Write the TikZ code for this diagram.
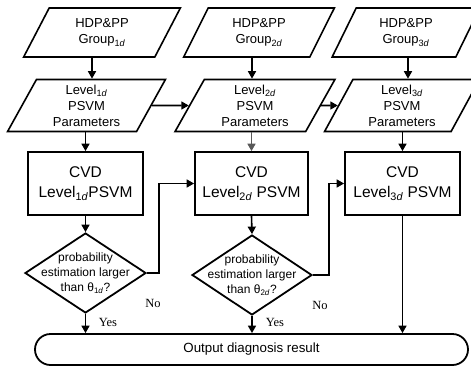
\documentclass[tikz,border=0pt]{standalone}
\usepackage{fontspec}
\setmainfont{Liberation Sans}
\newfontfamily\ynfont{Liberation Serif}
\usetikzlibrary{shapes.geometric,shapes.misc,arrows.meta}
\newcommand{\lvsub}[1]{\textsubscript{#1\textit{d}}}

\begin{document}
\begin{tikzpicture}[x=1pt,y=-1pt]
\tikzstyle{every node}+=[inner sep=0pt]
\tikzstyle{data}=[draw, line width=1.6pt, trapezium, trapezium left angle=65, trapezium right angle=115, trapezium stretches=true, align=center, font=\fontsize{13}{16}\selectfont]
\tikzstyle{proc}=[draw, line width=1.8pt, rectangle, minimum width=114pt, minimum height=63pt, align=center, font=\fontsize{15.5}{20}\selectfont]
\tikzstyle{decide}=[draw, line width=1.8pt, diamond, minimum width=121pt, minimum height=80pt]
\tikzstyle{term}=[draw, line width=1.8pt, rounded rectangle, minimum width=433pt, minimum height=31pt, font=\fontsize{13.3}{16}\selectfont]
\tikzstyle{arr}=[line width=1.6pt, -{Triangle[length=7.5pt,width=8pt]}]
\tikzstyle{yn}=[font=\ynfont\fontsize{12.5}{14}\selectfont]
\useasboundingbox (0,0) rectangle (471,367);
% groups
\node [data, minimum width=157pt, minimum height=49pt] (g1) at (102,32.5) {HDP\&PP\\Group\lvsub{1}};
\node [data, minimum width=151pt, minimum height=49pt] (g2) at (259,32.5) {HDP\&PP\\Group\lvsub{2}};
\node [data, minimum width=148pt, minimum height=49pt] (g3) at (406,32.5) {HDP\&PP\\Group\lvsub{3}};
% parameters
\node [data, minimum width=158pt, minimum height=52pt] (p1) at (86.5,105.5) {Level\lvsub{1}\\PSVM\\Parameters};
\node [data, minimum width=160pt, minimum height=52pt] (p2) at (255,105.5) {Level\lvsub{2}\\PSVM\\Parameters};
\node [data, minimum width=155pt, minimum height=52pt] (p3) at (402,105.5) {Level\lvsub{3}\\PSVM\\Parameters};
% classifiers
\node [proc, minimum width=115pt] (c1) at (85.5,183.5) {CVD\\Level\lvsub{1}PSVM};
\node [proc, minimum width=113pt] (c2) at (251.5,183.5) {CVD\\Level\lvsub{2} PSVM};
\node [proc, minimum width=115pt] (c3) at (402.5,183.5) {CVD\\Level\lvsub{3} PSVM};
% decisions
\node [decide, label={[align=center, font=\fontsize{12}{15}\selectfont]center:probability\\estimation larger\\than θ\lvsub{1}?}] (d1) at (85.5,273) {};
\node [decide, minimum width=120pt, label={[align=center, font=\fontsize{12}{15}\selectfont]center:probability\\estimation larger\\than θ\lvsub{2}?}] (d2) at (252,275) {};
\node [term] (out) at (251.5,349.5) {Output diagnosis result};
% connectors
\draw [arr] ([xshift=-10pt]g1.south) -- ([xshift=-10pt]g1.south |- p1.north);
\draw [arr] ([xshift=-7pt]g2.south) -- ([xshift=-7pt]g2.south |- p2.north);
\draw [arr] ([xshift=2pt]g3.south) -- ([xshift=2pt]g3.south |- p3.north);
\draw [arr] (p1.east) -- (p2.west);
\draw [arr] (p2.east) -- (p3.west);
\draw [arr] (p1.south -| c1.south) -- (c1.north);
\draw [arr, draw=black!65, fill=black!65] (p2.south -| c2.south) -- (c2.north);
\draw [arr] (p3.south -| c3.south) -- (c3.north);
\draw [arr] (c1.south) -- (d1.north);
\draw [arr] (c2.south) -- (d2.north);
\draw [arr] (d1.east) -- ++(12,0) |- (c2.west);
\draw [arr] (d2.east) -- ++(16,0) |- (c3.west);
\draw [arr] (d1.south) -- (d1.south |- out.north);
\draw [arr] (d2.south) -- (d2.south |- out.north);
\draw [arr] (c3.south) -- (c3.south |- out.north);
\node [yn] (no1) at (153,303) {No};
\node [yn] (yes1) at (108,322) {Yes};
\node [yn] (no2) at (320,305) {No};
\node [yn] (yes2) at (275,322) {Yes};
\end{tikzpicture}
\end{document}
